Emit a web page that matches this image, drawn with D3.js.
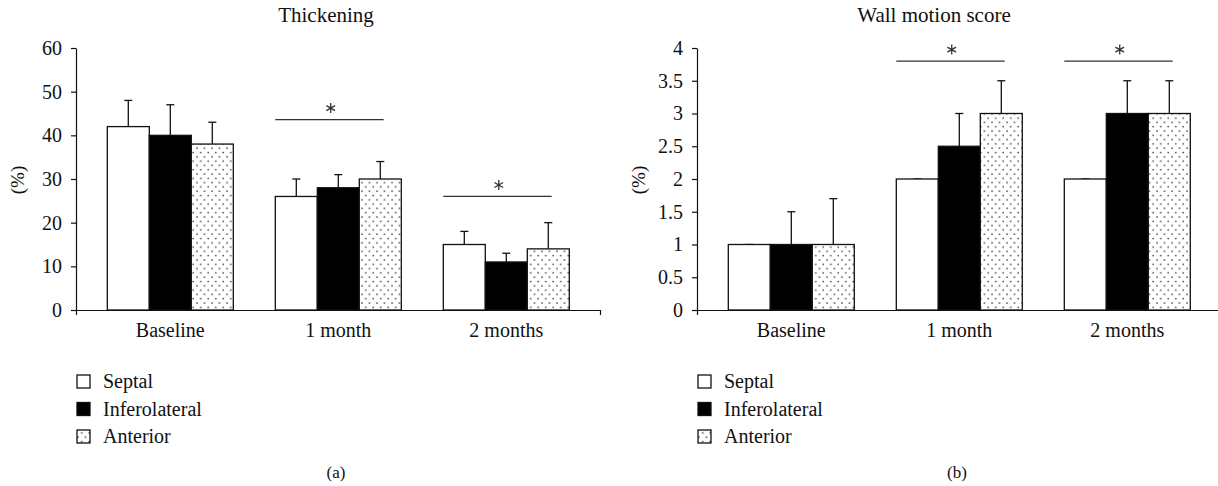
<!DOCTYPE html>
<html>
<head>
<meta charset="utf-8">
<script src="https://cdn.jsdelivr.net/npm/d3@7"></script>
<style>
  body { margin: 0; background: #fff; }
  svg text { font-family: "Liberation Serif", "DejaVu Serif", serif; fill: #111; }
</style>
</head>
<body>
<div id="chart"></div>
<script>
const categories = ["Baseline", "1 month", "2 months"];
const seriesNames = ["Septal", "Inferolateral", "Anterior"];

// mean and top of error bar, per category, per series
const thickMean  = [[42, 40, 38], [26, 28, 30], [15, 11, 14]];
const thickUpper = [[48, 47, 43], [30, 31, 34], [18, 13, 20]];
const thickTicks = [0, 10, 20, 30, 40, 50, 60];
const thickSig   = [null, 43.6, 26];

const wallMean  = [[1, 1, 1], [2, 2.5, 3], [2, 3, 3]];
const wallUpper = [[1, 1.5, 1.7], [2, 3, 3.5], [2, 3.5, 3.5]];
const wallTicks = [0, 0.5, 1, 1.5, 2, 2.5, 3, 3.5, 4];
const wallSig   = [null, 3.8, 3.8];

const panels = [
  {x0: 76, title: "Thickening", titleX: 250, mean: thickMean, upper: thickUpper, ticks: thickTicks, sig: thickSig, tag: "(a)", xEnd: 524},
  {x0: 697, title: "Wall motion score", titleX: 237, mean: wallMean, upper: wallUpper, ticks: wallTicks, sig: wallSig, tag: "(b)", xEnd: 522}
];

const W = 1218, H = 486;
const yTop = 48, yBottom = 310;
const fills = ["#fff", "#000", "url(#dots)"];

const svg = d3.select("#chart").append("svg")
  .attr("width", W).attr("height", H);

// dotted fill for Anterior
const pat = svg.append("defs").append("pattern")
  .attr("id", "dots")
  .attr("patternUnits", "userSpaceOnUse")
  .attr("width", 7.5).attr("height", 8.6);
pat.append("rect").attr("width", 7.5).attr("height", 8.6).attr("fill", "#fff");
pat.append("circle").attr("cx", 2).attr("cy", 2).attr("r", 0.8).attr("fill", "#333");
pat.append("circle").attr("cx", 5.75).attr("cy", 6.3).attr("r", 0.8).attr("fill", "#333");

const star = d3.symbol(d3.symbolAsterisk).size(70);

panels.forEach(p => {
  const g = svg.append("g");

  const x = d3.scaleBand().domain(categories)
    .range([p.x0 + 31.3, p.x0 + 493.3])
    .paddingInner(0.25).paddingOuter(0);
  const xs = d3.scaleBand().domain(seriesNames).range([0, x.bandwidth()]);
  const y = d3.scaleLinear()
    .domain([0, p.ticks[p.ticks.length - 1]])
    .range([yBottom, yTop]);

  // y axis
  const yAxis = g.append("g")
    .attr("transform", `translate(${p.x0},0)`)
    .call(d3.axisLeft(y).tickValues(p.ticks).tickSize(5).tickSizeOuter(0).tickPadding(9)
      .tickFormat(d3.format("")));
  yAxis.selectAll("text").style("font-size", "20px").attr("fill", "#111");
  yAxis.selectAll("path, line").attr("stroke", "#111").attr("stroke-width", 1.2);
  yAxis.attr("font-family", null);

  // x axis line with end ticks
  const xl = d3.scaleLinear().domain([0, 1]).range([p.x0, p.x0 + p.xEnd]);
  const xAxis = g.append("g")
    .attr("transform", `translate(0,${yBottom})`)
    .call(d3.axisBottom(xl).tickValues([0, 1]).tickSize(5).tickSizeOuter(0).tickFormat(""));
  xAxis.selectAll("path, line").attr("stroke", "#111").attr("stroke-width", 1.2);

  // category labels
  g.selectAll(".cat").data(categories).enter().append("text")
    .attr("x", d => x(d) + x.bandwidth() / 2)
    .attr("y", 337)
    .attr("text-anchor", "middle")
    .style("font-size", "20px")
    .text(d => d);

  // bars
  categories.forEach((c, ci) => {
    seriesNames.forEach((s, si) => {
      const bx = x(c) + xs(s);
      const cx = bx + xs.bandwidth() / 2;
      const v = p.mean[ci][si], u = p.upper[ci][si];
      // error bar
      g.append("line")
        .attr("x1", cx).attr("x2", cx)
        .attr("y1", y(v)).attr("y2", y(u))
        .attr("stroke", "#111").attr("stroke-width", 1.3);
      g.append("line")
        .attr("x1", cx - 4).attr("x2", cx + 4)
        .attr("y1", y(u)).attr("y2", y(u))
        .attr("stroke", "#111").attr("stroke-width", 1.3);
      g.append("rect")
        .attr("x", bx).attr("y", y(v))
        .attr("width", xs.bandwidth())
        .attr("height", y(0) - y(v))
        .attr("fill", fills[si])
        .attr("stroke", "#111").attr("stroke-width", 1.3);
    });
    // significance marker
    if (p.sig[ci] != null) {
      const sx = x(c);
      g.append("line")
        .attr("x1", sx).attr("x2", sx + x.bandwidth() * 0.86)
        .attr("y1", y(p.sig[ci])).attr("y2", y(p.sig[ci]))
        .attr("stroke", "#333").attr("stroke-width", 1.3);
      g.append("path")
        .attr("transform", `translate(${sx + x.bandwidth() * 0.44},${y(p.sig[ci]) - 11.5})`)
        .attr("d", star())
        .attr("fill", "none")
        .attr("stroke", "#333").attr("stroke-width", 1.3);
    }
  });

  // titles
  g.append("text")
    .attr("x", p.x0 + p.titleX).attr("y", 22)
    .attr("text-anchor", "middle")
    .style("font-size", "21px")
    .text(p.title);
  g.append("text")
    .attr("transform", `translate(${p.x0 - 52},180) rotate(-90)`)
    .attr("text-anchor", "middle")
    .style("font-size", "19px")
    .text("(%)");

  // legend
  const lg = g.append("g").attr("transform", `translate(${p.x0},375)`);
  seriesNames.forEach((s, si) => {
    lg.append("rect")
      .attr("x", 1).attr("y", si * 27.5)
      .attr("width", 13).attr("height", 13)
      .attr("fill", fills[si])
      .attr("stroke", "#111").attr("stroke-width", 1.3);
    lg.append("text")
      .attr("x", 27).attr("y", si * 27.5 + 13)
      .style("font-size", "20px")
      .text(s);
  });

  g.append("text")
    .attr("x", p.x0 + 260).attr("y", 478)
    .attr("text-anchor", "middle")
    .style("font-size", "17px")
    .text(p.tag);
});
</script>
</body>
</html>
